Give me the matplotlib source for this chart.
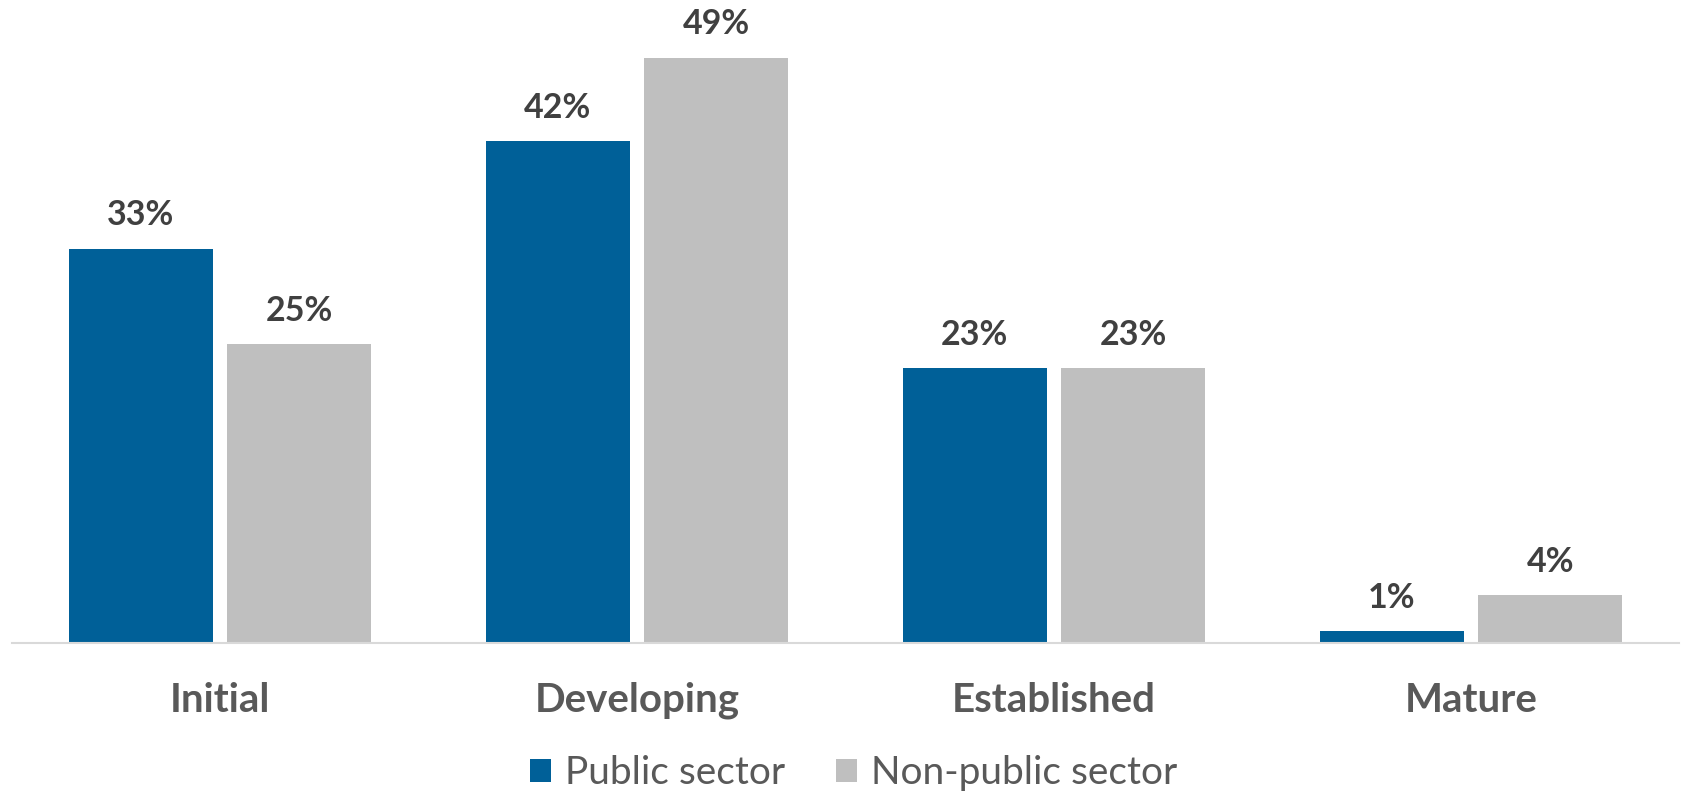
import matplotlib
matplotlib.use("Agg")
import matplotlib.pyplot as plt
from matplotlib.patches import Patch
import numpy as np

categories = ["Initial", "Developing", "Established", "Mature"]
public_sector = [33, 42, 23, 1]
non_public_sector = [25, 49, 23, 4]
series_names = ["Public sector", "Non-public sector"]

BLUE = "#006098"
GRAY = "#BFBFBF"
VALUE_COLOR = "#404040"
LABEL_COLOR = "#595959"
FONT = ["Lato", "DejaVu Sans"]

W, H = 1683, 793
fig = plt.figure(figsize=(W / 100, H / 100), dpi=100)
ax = fig.add_axes([11.5 / W, 150 / H, 1668 / W, 645 / H])

x = np.arange(len(categories))
width = 0.345
offset = 0.19

b1 = ax.bar(x - offset, public_sector, width, color=BLUE, label=series_names[0])
b2 = ax.bar(x + offset, non_public_sector, width, color=GRAY, label=series_names[1])

for bars in (b1, b2):
    ax.bar_label(bars, labels=[f"{v}%" for v in bars.datavalues], padding=12.5,
                 fontsize=24.5, fontweight="bold", color=VALUE_COLOR, family=FONT)

ax.set_xlim(-0.5, len(categories) - 0.5)
ax.set_ylim(0, 54)
ax.set_yticks([])
ax.set_xticks(x)
ax.set_xticklabels(categories, fontsize=29, fontweight="bold", color=LABEL_COLOR, family=FONT)
ax.tick_params(axis="x", length=0, pad=28)

for side in ("top", "right", "left"):
    ax.spines[side].set_visible(False)
ax.spines["bottom"].set_color("#D9D9D9")
ax.spines["bottom"].set_linewidth(1.5)

handles = [Patch(facecolor=BLUE), Patch(facecolor=GRAY)]
leg = fig.legend(handles, series_names, loc="center", bbox_to_anchor=(853.5 / W, 20 / H),
                 ncol=2, frameon=False, handlelength=0.55, handleheight=0.55,
                 handletextpad=0.35, columnspacing=1.3,
                 prop={"family": FONT, "size": 28})
for t in leg.get_texts():
    t.set_color(LABEL_COLOR)

fig.savefig("out.png", dpi=100)
